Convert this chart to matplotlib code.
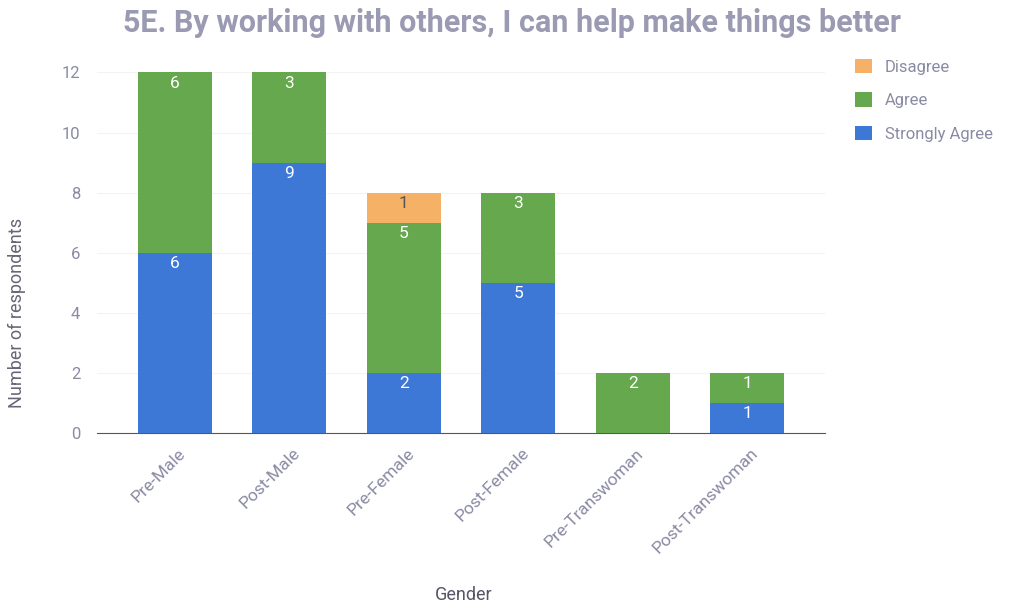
import matplotlib
matplotlib.use("Agg")
import matplotlib.pyplot as plt
import matplotlib.transforms as mtransforms
import numpy as np

categories = ["Pre-Male", "Post-Male", "Pre-Female", "Post-Female", "Pre-Transwoman", "Post-Transwoman"]
strongly_agree = [6, 9, 2, 5, 0, 1]
agree = [6, 3, 5, 3, 2, 1]
disagree = [0, 0, 1, 0, 0, 0]
y_ticks = [0, 2, 4, 6, 8, 10, 12]

c_sa = "#3d78d6"
c_ag = "#65a84d"
c_dis = "#f5b266"
txt = "#8a8aa4"

plt.rcParams['font.family'] = ['Roboto', 'DejaVu Sans']

fig = plt.figure(figsize=(10.14, 6.07), dpi=100)
ax = fig.add_axes([0.0957, 0.2867, 0.718, 0.594])

x = np.arange(len(categories))
w = 0.645
series = [("Strongly Agree", strongly_agree, c_sa, "white"),
          ("Agree", agree, c_ag, "white"),
          ("Disagree", disagree, c_dis, "#555555")]
bottom = np.zeros(len(categories))
handles = {}
for name, vals, col, tcol in series:
    vals = np.array(vals, dtype=float)
    bars = ax.bar(x, vals, w, bottom=bottom, color=col, label=name, zorder=3)
    handles[name] = bars
    for xi, v, b in zip(x, vals, bottom):
        if v > 0:
            ax.annotate(f"{int(v)}", (xi, b + v), xytext=(0, -2.5), textcoords="offset points",
                        ha="center", va="top", color=tcol, fontsize=12.5, zorder=4)
    bottom += vals

ax.set_xlim(-0.68, 5.68)
ax.set_ylim(0, 12)
ax.set_yticks(y_ticks)
ax.set_yticklabels([str(t) for t in y_ticks])
ax.grid(axis="y", color="#f3f3f3", linewidth=0.8, zorder=0)
for s in ["top", "right", "left"]:
    ax.spines[s].set_visible(False)
ax.spines["bottom"].set_color("#555566")
ax.tick_params(axis="y", length=0, colors=txt, labelsize=12, pad=12)
ax.tick_params(axis="x", length=0, colors=txt, labelsize=12.5, pad=4)
ax.set_xticks(x)
ax.set_xticklabels(categories, rotation=45, ha="right", rotation_mode="anchor")
offset = mtransforms.ScaledTranslation(3 / 100, -7 / 100, fig.dpi_scale_trans)
for lab in ax.get_xticklabels():
    lab.set_transform(lab.get_transform() + offset)
ax.set_ylabel("Number of respondents", color="#666677", fontsize=13)
ax.yaxis.set_label_coords(-0.097, 0.332)
ax.set_xlabel("Gender", color="#555566", fontsize=13, va="center")
ax.xaxis.set_label_coords(0.503, -0.449)

fig.text(0.505, 0.962, "5E. By working with others, I can help make things better",
         ha="center", va="center", fontsize=22, fontweight="bold", color="#9a9ab2")

leg = ax.legend([handles["Disagree"], handles["Agree"], handles["Strongly Agree"]],
                ["Disagree", "Agree", "Strongly Agree"],
                loc="upper left", bbox_to_anchor=(1.021, 1.08), frameon=False,
                fontsize=12, handlelength=1.0, handleheight=1.0, labelspacing=1.04,
                handletextpad=0.75)
for t in leg.get_texts():
    t.set_color(txt)

fig.savefig("out.png", dpi=100, facecolor="white")
